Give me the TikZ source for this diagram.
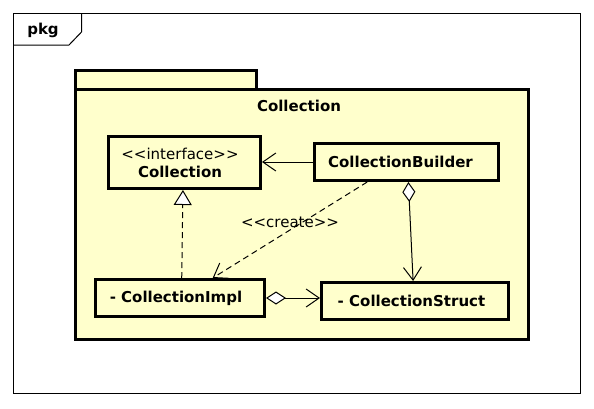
\documentclass[tikz,border=0pt]{standalone}
\usepackage{fontspec}
\setmainfont{DejaVu Sans}
\usetikzlibrary{arrows.meta,calc}
\definecolor{pkgfill}{HTML}{FFFFCC}
\begin{document}
\begin{tikzpicture}[x=1pt,y=-1pt,
  thin line/.style={line width=1pt},
  thick line/.style={line width=3pt},
  txt/.style={font=\fontsize{15}{18}\selectfont},
  btxt/.style={font=\bfseries\fontsize{15}{18}\selectfont},
  classbox/.style={thick line, draw, fill=pkgfill, inner sep=0pt, align=center,
    font=\bfseries\fontsize{15}{18}\selectfont},
  openarrow/.style={thin line, -{Straight Barb[length=13pt,width=18pt]}},
  realize/.style={thin line, dash pattern=on 6pt off 4pt, -{Triangle[fill=white,length=15pt,width=18pt]}},
  depend/.style={thin line, dash pattern=on 6pt off 4pt, -{Straight Barb[length=13pt,width=18pt]}},
  aggr/.style={thin line, {Diamond[fill=white,length=20pt,width=13pt]}-{Straight Barb[length=13pt,width=18pt]}}
]
\useasboundingbox (0,0) rectangle (594,408);
% frame
\draw[thin line] (13.5,13.5) rectangle (580.5,393.5);
\draw[thin line] (13.5,45) -- (69,45) -- (81.5,32) -- (81.5,13.5);
\node[btxt] (pkglabel) at (43,30) {pkg};
% package
\draw[thick line, fill=pkgfill] (75,70) rectangle (256,89);
\draw[thick line, fill=pkgfill] (75,89) rectangle (528.5,339.5);
\node[btxt] (pkgname) at (299,106) {Collection};
% classes
\node[classbox, minimum width=152pt, minimum height=52pt] (Coll) at (184.5,162.5)
  {{\mdseries <{}<interface>{}>}\kern9pt\\Collection\kern9pt};
\node[classbox, minimum width=184pt, minimum height=37pt] (Builder) at (406.5,162)
  {CollectionBuilder\kern12pt};
\node[classbox, minimum width=169pt, minimum height=37pt] (Impl) at (180,298)
  {- CollectionImpl\kern8pt};
\node[classbox, minimum width=187pt, minimum height=37pt] (Struct) at (415,301)
  {- CollectionStruct\kern7pt};
% connectors
\draw[openarrow] (Builder.west) -- (Coll.east |- Builder.west);
\draw[realize] ($(Impl.north west)!0.51!(Impl.north east)$) -- ($(Coll.south west)!0.49!(Coll.south east)$);
\draw[depend] ($(Builder.south west)!0.29!(Builder.south east)$) -- ($(Impl.north west)!0.69!(Impl.north east)$);
\node[txt] (createlbl) at (290,222) {<{}<create>{}>};
\draw[aggr] ($(Builder.south west)!0.51!(Builder.south east)$) -- ($(Struct.north west)!0.49!(Struct.north east)$);
\draw[aggr] (Impl.east) -- (Struct.west |- Impl.east);
\end{tikzpicture}
\end{document}
